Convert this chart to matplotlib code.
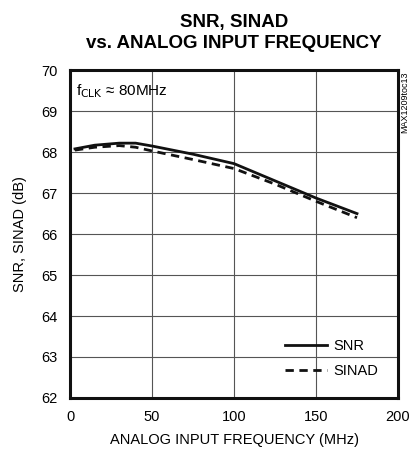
import matplotlib
matplotlib.use("Agg")
import matplotlib.pyplot as plt

plt.rcParams['font.family'] = ['Liberation Sans', 'DejaVu Sans']

freq = [3, 15, 30, 40, 50, 75, 100, 125, 150, 175]
snr = [68.08, 68.17, 68.22, 68.22, 68.15, 67.95, 67.72, 67.3, 66.88, 66.5]
sinad = [68.05, 68.12, 68.16, 68.12, 68.03, 67.82, 67.6, 67.22, 66.8, 66.4]

x_ticks = [0, 50, 100, 150, 200]
y_ticks = [62, 63, 64, 65, 66, 67, 68, 69, 70]

fig = plt.figure(figsize=(4.12, 4.59), dpi=100)
ax = fig.add_axes([0.170, 0.133, 0.796, 0.714])

ax.plot(freq, snr, color="#111111", lw=2.0, label="SNR")
ax.plot(freq, sinad, color="#111111", lw=2.0, ls=(0, (3, 2)), label="SINAD")

ax.set_xlim(0, 200)
ax.set_ylim(62, 70)
ax.set_xticks(x_ticks)
ax.set_yticks(y_ticks)
ax.grid(True, color="#555555", lw=0.8)
ax.tick_params(length=0, labelsize=10.5, pad=9)
for s in ax.spines.values():
    s.set_linewidth(2.2)
    s.set_color("#111111")

ax.set_xlabel("ANALOG INPUT FREQUENCY (MHz)", fontsize=10.5, labelpad=6)
ax.set_ylabel("SNR, SINAD (dB)", fontsize=10.5, labelpad=10)
ax.set_title("SNR, SINAD\nvs. ANALOG INPUT FREQUENCY", fontsize=13.5,
             fontweight="bold", pad=16, linespacing=1.3)

ax.text(3.5, 69.5, r"f$_{\rm CLK}$ ≈ 80MHz", fontsize=11, va="center")
fig.text(0.983, 0.845, "MAX1209toc13", rotation=90, fontsize=6.5,
         va="top", ha="center")

leg = ax.legend(loc="lower right", frameon=False, fontsize=10.5, handlelength=2.9,
                handletextpad=0.45, labelspacing=0.75, borderaxespad=0.5,
                bbox_to_anchor=(0.98, 0.02))
for t in leg.get_texts():
    t.set_bbox(dict(facecolor="white", edgecolor="none", pad=1))

fig.savefig("out.png", dpi=100)
